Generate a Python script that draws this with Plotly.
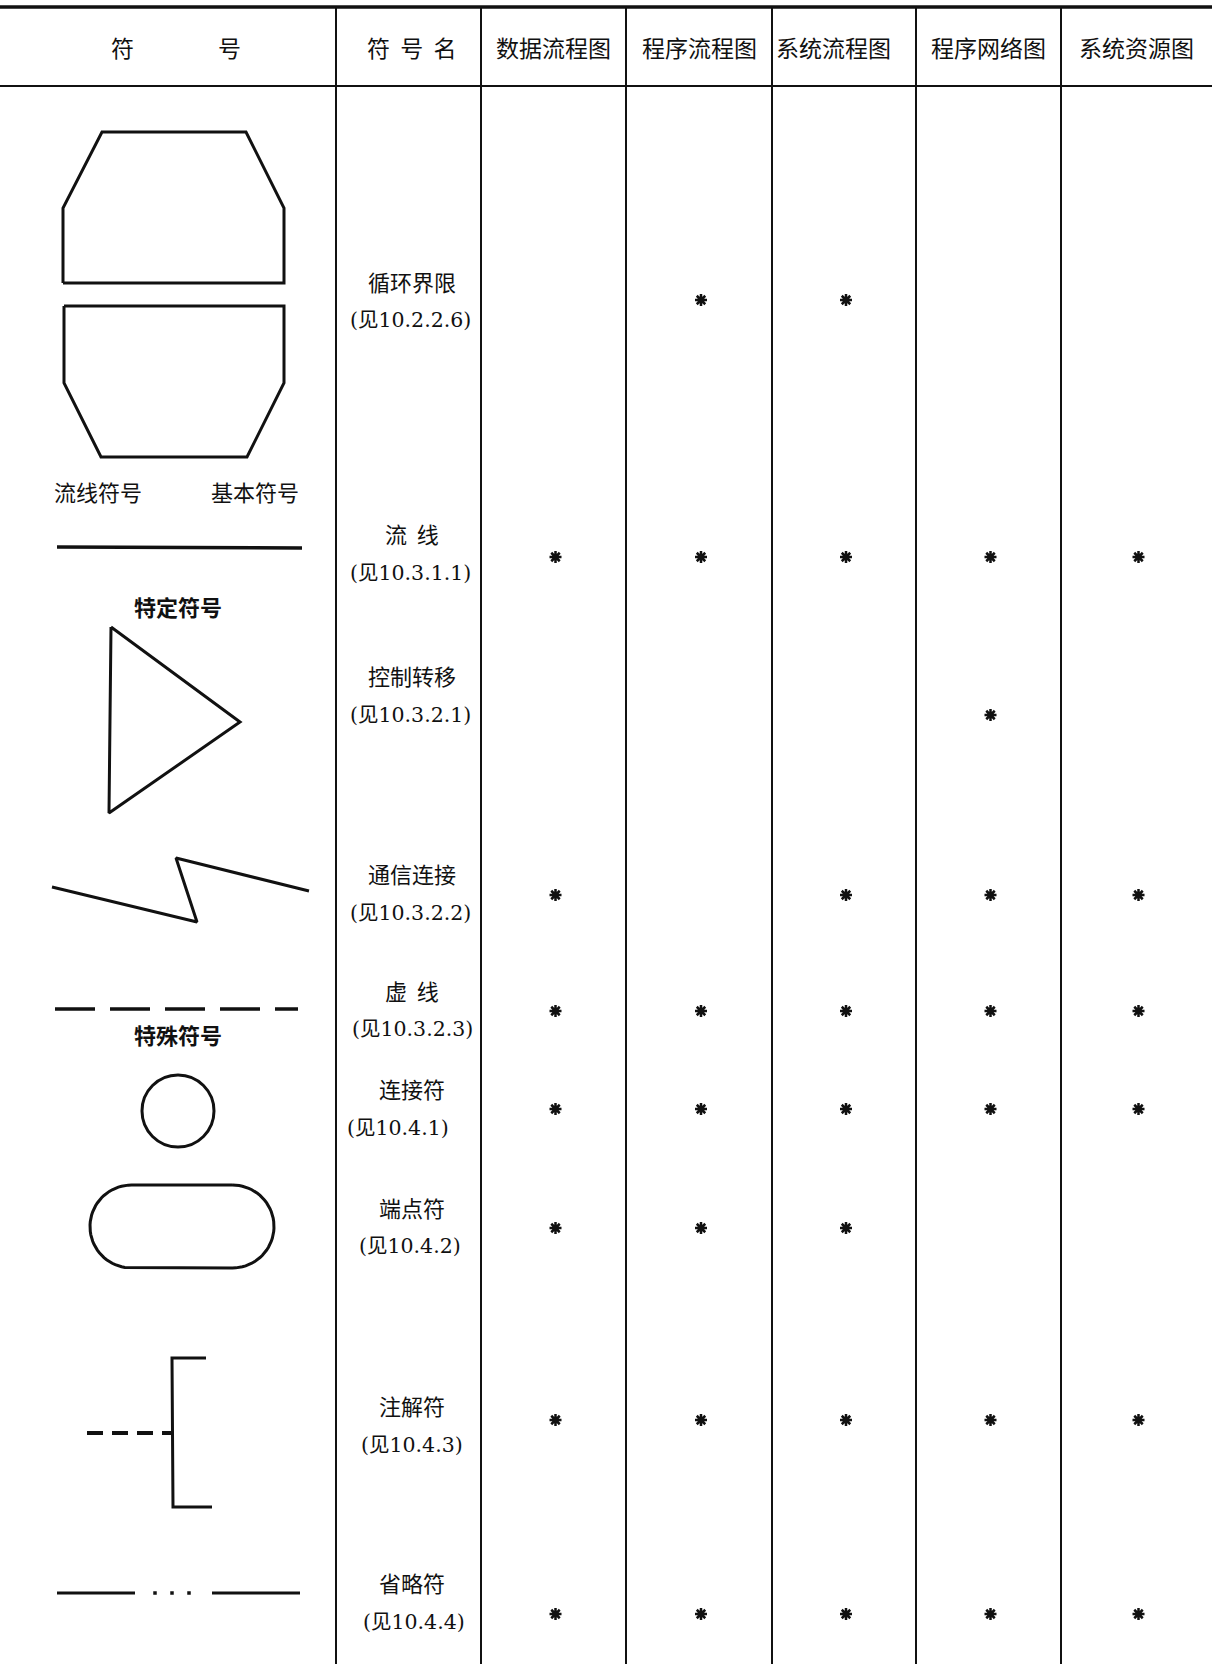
import numpy as np
import plotly.graph_objects as go

# ---------------- data ----------------
HEADER_SYMBOL = ["符", "号"]
HEADER_NAME = "符 号 名"
CHART_TYPES = ["数据流程图", "程序流程图", "系统流程图", "程序网络图", "系统资源图"]
SYMBOL_NAMES = ["循环界限", "流  线", "控制转移", "通信连接", "虚  线",
                "连接符", "端点符", "注解符", "省略符"]
REFS = ["(见10.2.2.6)", "(见10.3.1.1)", "(见10.3.2.1)", "(见10.3.2.2)",
        "(见10.3.2.3)", "(见10.4.1)", "(见10.4.2)", "(见10.4.3)", "(见10.4.4)"]
# 1 = symbol used in that chart type (marked with *)
USAGE = [
    [0, 1, 1, 0, 0],
    [1, 1, 1, 1, 1],
    [0, 0, 0, 1, 0],
    [1, 0, 1, 1, 1],
    [1, 1, 1, 1, 1],
    [1, 1, 1, 1, 1],
    [1, 1, 1, 0, 0],
    [1, 1, 1, 1, 1],
    [1, 1, 1, 1, 1],
]
GROUP_LABELS = ["流线符号", "基本符号", "特定符号", "特殊符号"]

# ---------------- layout (page pixel units) ----------------
W, H = 1212, 1664
COL_EDGES = [0, 336, 481, 626, 772, 916, 1061, 1212]
TOP_RULE_Y = 7
HEAD_RULE_Y = 86
HEAD_Y = 47
NAME_Y = [281, 533, 675, 873, 990, 1088, 1207, 1405, 1582]
REF_Y = [320, 573, 715, 913, 1029, 1128, 1246, 1445, 1622]
STAR_Y = [300, 557, 715, 895, 1011, 1109, 1228, 1420, 1614]
NAME_X = 412
REF_X = [410, 410, 410, 410, 412, 398, 410, 412, 414]
GROUP_POS = [(98, 491), (255, 491), (178, 606), (178, 1034)]

CJK = "Noto Sans CJK SC"
MIX = "DejaVu Serif, Noto Sans CJK SC"
INK = "#111111"

fig = go.Figure()

# table rules
shapes = []
shapes.append(dict(type="line", x0=0, x1=W, y0=TOP_RULE_Y, y1=TOP_RULE_Y,
                   line=dict(color=INK, width=3.5)))
shapes.append(dict(type="line", x0=0, x1=W, y0=HEAD_RULE_Y, y1=HEAD_RULE_Y,
                   line=dict(color=INK, width=2)))
for xe in COL_EDGES[1:-1]:
    shapes.append(dict(type="line", x0=xe, x1=xe, y0=TOP_RULE_Y, y1=H,
                       line=dict(color=INK, width=2)))

# ---- symbol drawings ----
SYM_W = 3
def poly(xs, ys, width=SYM_W, dash="solid"):
    fig.add_trace(go.Scatter(x=xs, y=ys, mode="lines", hoverinfo="skip",
                             line=dict(color=INK, width=width, dash=dash),
                             showlegend=False))

# loop limit (top and bottom halves)
poly([63, 63, 102, 246, 284, 284, 63], [283, 208, 132, 132, 208, 283, 283])
poly([64, 284, 284, 247, 101, 64, 64], [306, 306, 383, 457, 457, 383, 306])
# flow line
poly([57, 302], [547, 548], width=3.5)
# control transfer triangle
poly([111, 240, 109, 111], [627, 722, 813, 627])
# communication link (zigzag)
poly([52, 197, 176, 309], [887, 922, 858, 891])
# dashed line
poly([55, 298], [1009, 1009], width=3.5, dash="40px,15px")
# connector circle
shapes.append(dict(type="circle", x0=142, x1=214, y0=1075, y1=1147,
                   line=dict(color=INK, width=SYM_W)))
# terminator (stadium)
r = 41.5
cy = 1226.5
xl, xr = 90 + r, 274 - r
t1 = np.linspace(-np.pi / 2, np.pi / 2, 40)
t2 = np.linspace(np.pi / 2, 3 * np.pi / 2, 40)
sx = np.concatenate([xr + r * np.cos(t1), xl + r * np.cos(t2), [xr]])
sy = np.concatenate([cy + r * np.sin(t1), cy + r * np.sin(t2), [cy - r]])
poly(sx, sy)
# annotation bracket
poly([206, 172, 173, 212], [1358, 1358, 1507, 1507])
poly([87, 172], [1433, 1433], width=4, dash="16px,9px")
# ellipsis
poly([57, 135], [1593, 1593], width=3)
poly([212, 300], [1593, 1593], width=3)
fig.add_trace(go.Scatter(x=[155, 172, 189], y=[1593, 1593, 1593], mode="markers",
                         marker=dict(symbol="square", size=3.5, color=INK),
                         hoverinfo="skip", showlegend=False))

# ---- stars ----
col_centers = [(COL_EDGES[i + 2] + COL_EDGES[i + 3]) / 2 + 2 for i in range(len(CHART_TYPES))]
sx_, sy_ = [], []
for ri, row in enumerate(USAGE):
    for ci, v in enumerate(row):
        if v:
            sx_.append(col_centers[ci])
            sy_.append(STAR_Y[ri])
fig.add_trace(go.Scatter(x=sx_, y=sy_, mode="markers", hoverinfo="skip",
                         marker=dict(symbol="asterisk-open", size=10, color=INK,
                                     line=dict(color=INK, width=2.5)),
                         showlegend=False))

# ---- text ----
ann = []
def txt(x, y, s, size=20, fam=CJK, xanchor="center"):
    ann.append(dict(x=x, y=y, xref="x", yref="y", text=s, showarrow=False,
                    xanchor=xanchor, yanchor="middle",
                    font=dict(family=fam, size=size, color=INK)))

HS = 23
txt(122, HEAD_Y, HEADER_SYMBOL[0], size=HS)
txt(229, HEAD_Y, HEADER_SYMBOL[1], size=HS)
txt(412, HEAD_Y, HEADER_NAME.replace(" ", "  "), size=HS)
head_x = [(COL_EDGES[2] + COL_EDGES[3]) / 2, (COL_EDGES[3] + COL_EDGES[4]) / 2,
          None, (COL_EDGES[5] + COL_EDGES[6]) / 2, (COL_EDGES[6] + COL_EDGES[7]) / 2]
for i, name in enumerate(CHART_TYPES):
    if head_x[i] is None:
        txt(COL_EDGES[4] + 2, HEAD_Y, name, size=HS, xanchor="left")
    else:
        txt(head_x[i], HEAD_Y, name, size=HS)

for i, name in enumerate(SYMBOL_NAMES):
    txt(NAME_X, NAME_Y[i], name, size=22)
    txt(REF_X[i], REF_Y[i], REFS[i], size=20.5, fam=MIX)

for (gx, gy), lab in zip(GROUP_POS, GROUP_LABELS):
    s = lab if lab in ("流线符号", "基本符号") else "<b>" + lab + "</b>"
    txt(gx, gy, s, size=22)

fig.update_layout(
    width=W, height=H,
    margin=dict(l=0, r=0, t=0, b=0),
    paper_bgcolor="white", plot_bgcolor="white",
    xaxis=dict(range=[0, W], visible=False, fixedrange=True),
    yaxis=dict(range=[H, 0], visible=False, fixedrange=True),
    shapes=shapes, annotations=ann, showlegend=False,
)

fig.write_html("out.html", config={"displayModeBar": False},
               post_script="document.body.style.margin='0px';")
